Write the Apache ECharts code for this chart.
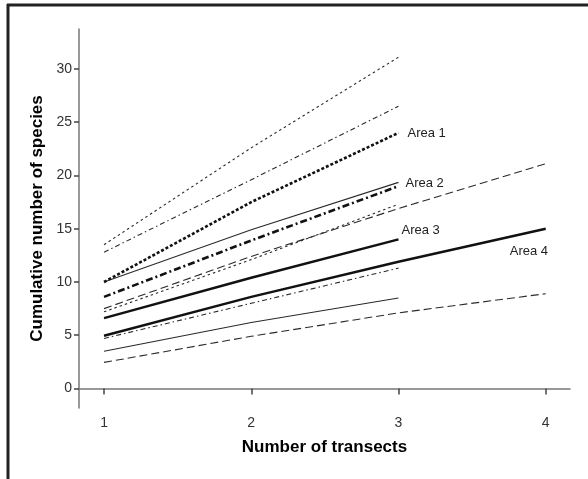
<!DOCTYPE html>
<html>
<head>
<meta charset="utf-8">
<script src="https://cdn.jsdelivr.net/npm/echarts@6/dist/echarts.min.js"></script>
<style>html,body{margin:0;padding:0;background:#fff}#c{width:588px;height:479px}</style>
</head>
<body>
<div id="c"></div>
<script>
// Number of transects
const transects3 = [1, 2, 3];
const transects4 = [1, 2, 3, 4];
const xTicks = [1, 2, 3, 4];
const yTicks = [0, 5, 10, 15, 20, 25, 30];

// Area 1 (thick dotted) and its CI (thin dotted)
const area1 = [10.0, 17.5, 24.0];
const area1Upper = [13.5, 22.6, 31.1];
const area1Lower = [7.2, 12.1, 17.3];
// Area 2 (thick dash-dot) and its CI (thin dash-dot)
const area2 = [8.6, 13.9, 19.0];
const area2Upper = [12.8, 19.6, 26.5];
const area2Lower = [4.7, 8.0, 11.3];
// Area 3 (thick solid) and its CI (thin solid)
const area3 = [6.6, 10.4, 14.0];
const area3Upper = [10.0, 14.9, 19.35];
const area3Lower = [3.5, 6.2, 8.5];
// Area 4 (thick solid) and its CI (thin long dash)
const area4 = [4.95, 8.6, 11.9, 15.0];
const area4Upper = [7.5, 12.4, 16.9, 21.1];
const area4Lower = [2.45, 4.9, 7.1, 8.9];

const labels = ['Area 1', 'Area 2', 'Area 3', 'Area 4'];

const FONT = 'Liberation Sans, Arial, sans-serif';
function pts(xs, ys) { return xs.map((x, i) => [x, ys[i]]); }

function line(xs, ys, width, dash, color, endLabel) {
  const s = {
    type: 'line', data: pts(xs, ys), symbol: 'none', silent: true, animation: false,
    lineStyle: { width: width, type: dash, color: color, cap: 'butt' }
  };
  if (endLabel) s.endLabel = Object.assign({ show: true, color: '#222', fontSize: 13, fontFamily: FONT }, endLabel);
  return s;
}

const thinC = '#2a2a2a', thickC = '#111';
const series = [
  line(transects3, area1Upper, 1.1, [2.5, 3], thinC),
  line(transects3, area1Lower, 1.1, [2.5, 3], thinC),
  line(transects3, area2Upper, 1.1, [5, 3, 1.5, 3], thinC),
  line(transects3, area2Lower, 1.1, [5, 3, 1.5, 3], thinC),
  line(transects3, area3Upper, 1.1, 'solid', thinC),
  line(transects3, area3Lower, 1.1, 'solid', thinC),
  line(transects4, area4Upper, 1.1, [8, 4], thinC),
  line(transects4, area4Lower, 1.1, [8, 4], thinC),
  line(transects3, area1, 2.6, [3, 2], thickC, { formatter: labels[0], offset: [1, 1] }),
  line(transects3, area2, 2.6, [7, 3, 2, 3], thickC, { formatter: labels[1], offset: [-1, -3] }),
  line(transects3, area3, 2.4, 'solid', thickC, { formatter: labels[2], offset: [-5, -9] }),
  line(transects4, area4, 2.4, 'solid', thickC, { formatter: labels[3], offset: [-44, 23] })
];

const chart = echarts.init(document.getElementById('c'), null, { renderer: 'canvas' });
chart.setOption({
  animation: false,
  backgroundColor: '#fff',
  grid: { left: 79, right: 18, top: 29, bottom: 71, containLabel: false },
  xAxis: {
    type: 'value', min: 0.83, max: 4.165,
    name: 'Number of transects', nameLocation: 'middle', nameGap: 31,
    nameTextStyle: { fontWeight: 'bold', fontSize: 17, color: '#000', fontFamily: FONT },
    axisLine: { show: true, lineStyle: { color: '#777', width: 1.5 } },
    axisTick: { show: true, customValues: xTicks, length: 6, inside: false, lineStyle: { color: '#444', width: 1.5 } },
    axisLabel: { customValues: xTicks, margin: 8, fontSize: 14, color: '#333', fontFamily: FONT },
    splitLine: { show: false }
  },
  yAxis: {
    type: 'value', min: -1.83, max: 33.75,
    name: 'Cumulative number of species', nameLocation: 'middle', nameGap: 32,
    nameTextStyle: { fontWeight: 'bold', fontSize: 17, color: '#000', fontFamily: FONT },
    axisLine: { show: true, lineStyle: { color: '#777', width: 1.5 } },
    axisTick: { show: true, customValues: yTicks, length: 5, inside: false, lineStyle: { color: '#444', width: 1.5 } },
    axisLabel: { customValues: yTicks, margin: 7, fontSize: 14, color: '#333', fontFamily: FONT },
    splitLine: { show: false }
  },
  graphic: [
    { type: 'line', shape: { x1: 7, y1: 5, x2: 588, y2: 5 }, style: { stroke: '#222', lineWidth: 3 } },
    { type: 'line', shape: { x1: 8, y1: 4, x2: 8, y2: 479 }, style: { stroke: '#222', lineWidth: 3 } }
  ],
  series: series
});
</script>
</body>
</html>
